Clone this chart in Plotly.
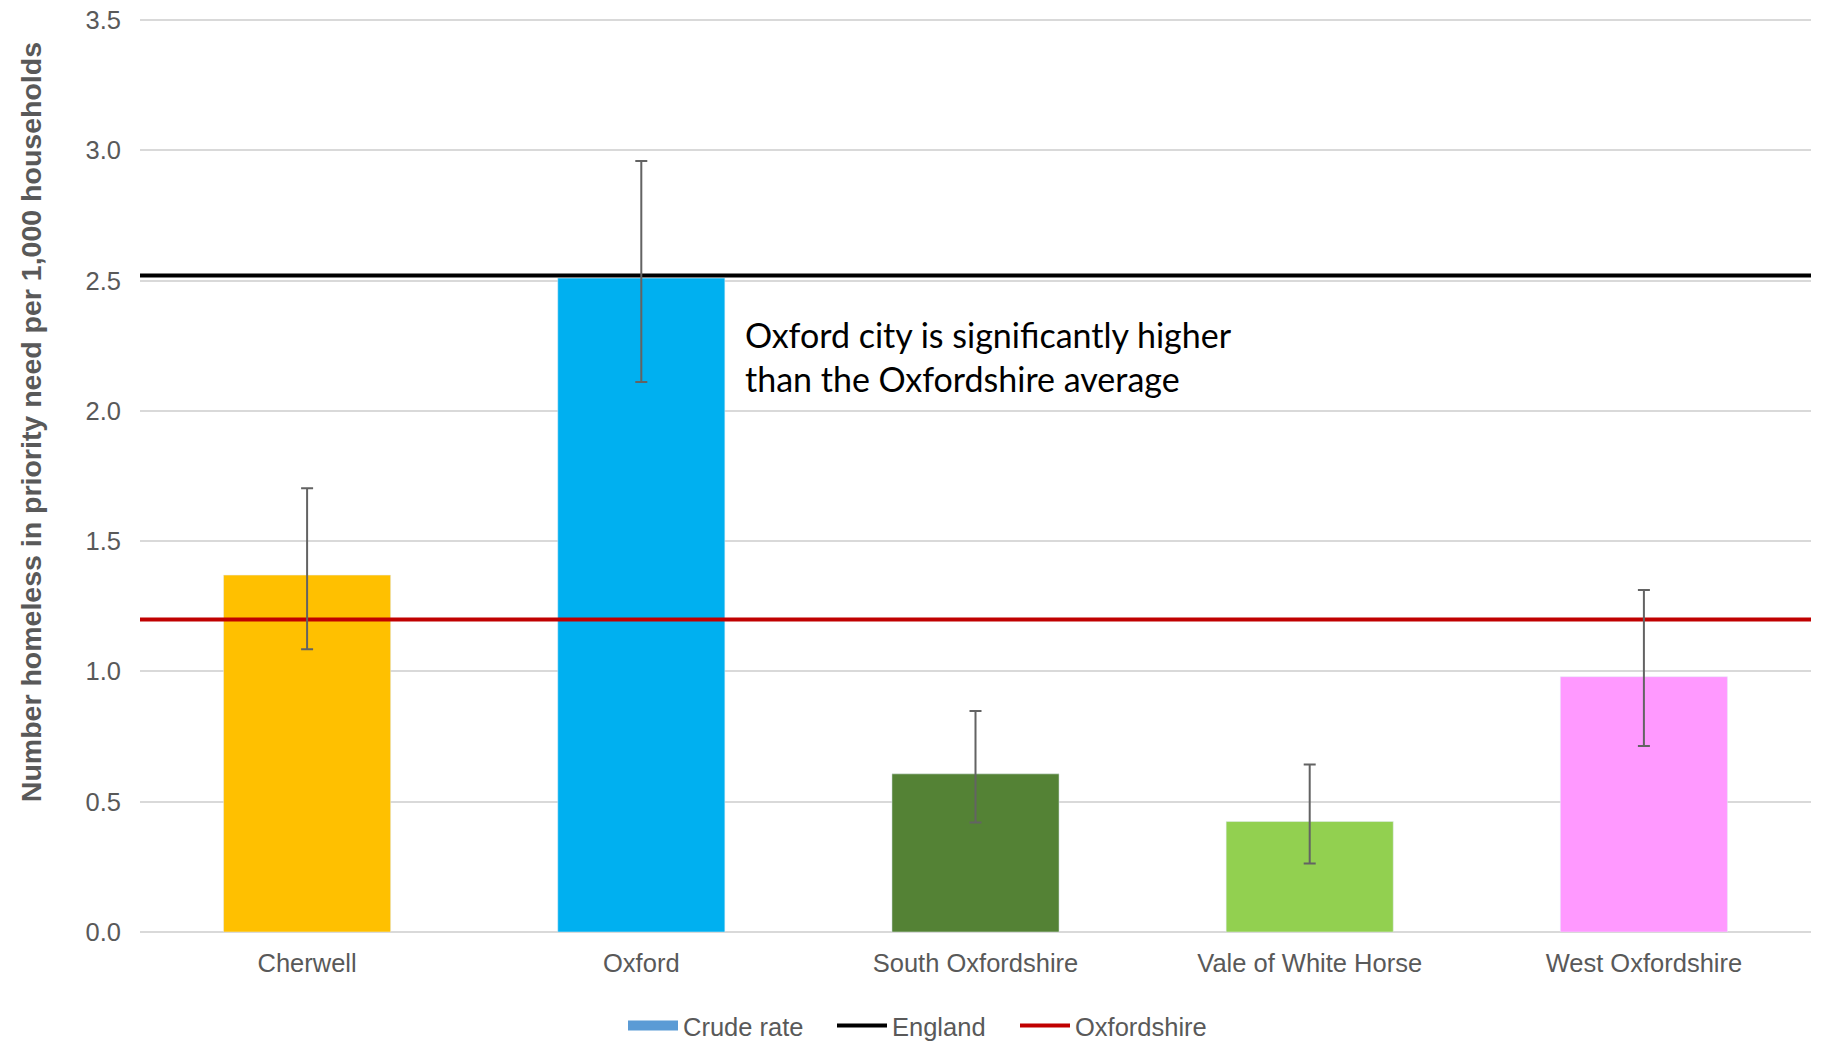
import plotly.graph_objects as go

# data
districts = ['Cherwell', 'Oxford', 'South Oxfordshire', 'Vale of White Horse', 'West Oxfordshire']
crude_rate = [1.37, 2.51, 0.607, 0.424, 0.98]
ci_upper = [1.703, 2.96, 0.848, 0.643, 1.313]
ci_lower = [1.085, 2.111, 0.42, 0.263, 0.714]
england_rate = 2.52
oxfordshire_rate = 1.20
y_ticks = [0.0, 0.5, 1.0, 1.5, 2.0, 2.5, 3.0, 3.5]

BAR_COLORS = ['#FFC000', '#00B0F0', '#548235', '#92D050', '#FF99FF']
LEGEND_BLUE = '#5B9BD5'
TEXT_GRAY = '#595959'
GRID_COLOR = '#D9D9D9'
ERR_COLOR = '#636363'
FONT = 'Liberation Sans, Arial, sans-serif'
W, H = 1825, 1052

positions = list(range(len(districts)))
x_span = [-0.5, len(districts) - 0.5]

fig = go.Figure()

# legend-only patch for the bar series
fig.add_trace(go.Scatter(
    x=[None], y=[None], mode='lines', name='Crude rate', legend='legend',
    line={'color': LEGEND_BLUE, 'width': 11},
))

fig.add_trace(go.Bar(
    x=positions, y=crude_rate, width=0.5,
    marker_color=BAR_COLORS, showlegend=False,
))

fig.add_trace(go.Scatter(
    x=x_span, y=[england_rate] * 2, mode='lines', name='England', legend='legend2',
    line={'color': 'black', 'width': 4},
))
fig.add_trace(go.Scatter(
    x=x_span, y=[oxfordshire_rate] * 2, mode='lines', name='Oxfordshire', legend='legend3',
    line={'color': '#C00000', 'width': 4},
))

# confidence intervals on top of the lines
fig.add_trace(go.Scatter(
    x=positions, y=crude_rate, mode='markers',
    marker={'size': 1, 'opacity': 0}, showlegend=False, hoverinfo='skip',
    error_y={
        'type': 'data', 'symmetric': False,
        'array': [u - v for u, v in zip(ci_upper, crude_rate)],
        'arrayminus': [v - l for v, l in zip(crude_rate, ci_lower)],
        'color': ERR_COLOR, 'thickness': 2, 'width': 6,
    },
))

fig.add_annotation(
    text='Oxford city is significantly higher<br>than the Oxfordshire average',
    xref='paper', yref='paper', x=0.361, y=0.628,
    xanchor='left', yanchor='middle', align='left', showarrow=False,
    font={'family': 'Lato, sans-serif', 'size': 34, 'color': 'black'},
)

# y-axis title sits above the axis centre, so place it by hand
fig.add_annotation(
    text='<b>Number homeless in priority need per 1,000 households</b>',
    xref='paper', yref='paper', x=-0.0652, y=0.556, textangle=-90,
    xanchor='center', yanchor='middle', showarrow=False,
    font={'family': FONT, 'size': 28.5, 'color': TEXT_GRAY},
)


def legend_box(px):
    return {
        'orientation': 'h', 'xref': 'container', 'yref': 'container',
        'x': px / W, 'xanchor': 'left',
        'y': 1 - 1026 / H, 'yanchor': 'middle',
        'font': {'size': 25.5, 'color': TEXT_GRAY},
        'itemwidth': 50, 'bgcolor': 'rgba(0,0,0,0)',
    }


fig.update_layout(
    width=W, height=H,
    margin={'l': 140, 'r': 14, 't': 15, 'b': 120, 'autoexpand': False},
    plot_bgcolor='white', paper_bgcolor='white',
    font={'family': FONT, 'size': 25.5, 'color': TEXT_GRAY},
    xaxis={
        'range': x_span, 'automargin': False,
        'tickvals': positions, 'ticktext': districts,
        'showgrid': False, 'zeroline': False, 'showline': False,
        'ticklabelstandoff': 13,
        'tickfont': {'size': 25.5, 'color': TEXT_GRAY},
    },
    yaxis={
        'range': [0, 3.52], 'automargin': False,
        'tickvals': y_ticks, 'tickformat': '.1f',
        'showgrid': True, 'gridcolor': GRID_COLOR, 'gridwidth': 2,
        'zeroline': True, 'zerolinecolor': GRID_COLOR, 'zerolinewidth': 2,
        'ticklabelstandoff': 18,
        'tickfont': {'size': 25.5, 'color': TEXT_GRAY},
    },
    legend=legend_box(623),
    legend2=legend_box(832),
    legend3=legend_box(1015),
    showlegend=True,
)

# drop the default page margin so the figure sits at the window origin
fig.write_html('out.html', config={'displayModeBar': False},
               post_script="document.body.style.margin='0px';")
